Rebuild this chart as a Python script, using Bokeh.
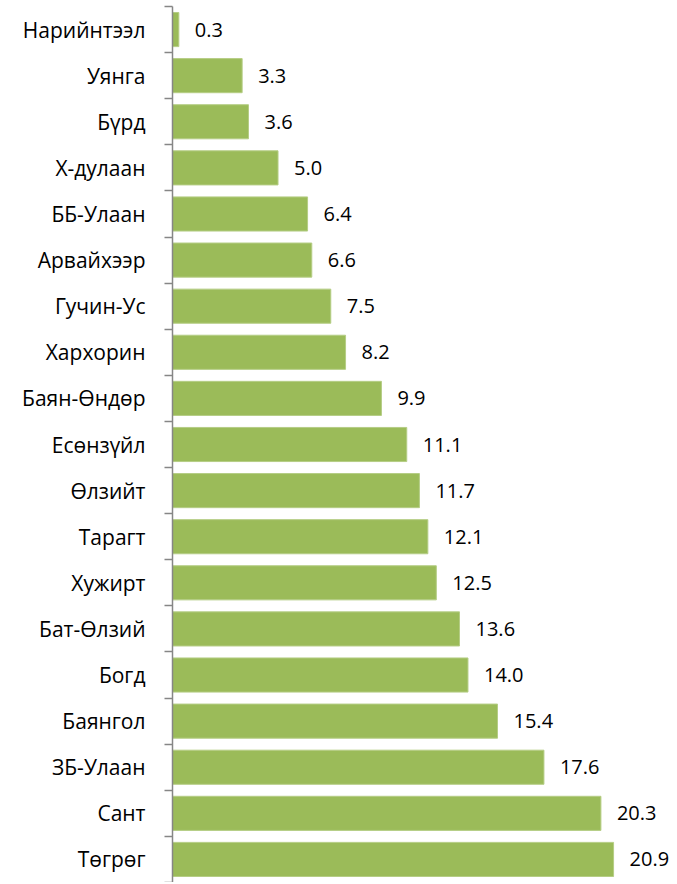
from bokeh.plotting import figure
from bokeh.models import ColumnDataSource, Range1d, FixedTicker, LabelSet
from bokeh.core.properties import value
from bokeh.embed import file_html
from bokeh.resources import INLINE

categories = ["Нарийнтээл", "Уянга", "Бүрд", "Х-дулаан", "ББ-Улаан", "Арвайхээр",
              "Гучин-Ус", "Хархорин", "Баян-Өндөр", "Есөнзүйл", "Өлзийт", "Тарагт",
              "Хужирт", "Бат-Өлзий", "Богд", "Баянгол", "ЗБ-Улаан", "Сант", "Төгрөг"]
values = [0.3, 3.3, 3.6, 5.0, 6.4, 6.6, 7.5, 8.2, 9.9, 11.1, 11.7, 12.1,
          12.5, 13.6, 14.0, 15.4, 17.6, 20.3, 20.9]

n = len(categories)
# position n is at the top (first category), 1 at the bottom (last category)
ypos = [n - i for i in range(n)]
labels = [f"{v:.1f}" for v in values]

src = ColumnDataSource(dict(y=ypos, v=values, lab=labels, cat=categories))

FONT = "Open Sans"

p = figure(width=677, height=882, output_backend="svg", toolbar_location=None,
           x_range=Range1d(0, 23.55), y_range=Range1d(0.5, n + 0.5),
           x_axis_location=None, min_border_left=172, min_border_right=8,
           min_border_top=6, min_border_bottom=0)
p.outline_line_color = None
p.xgrid.visible = False
p.ygrid.visible = False

p.hbar(y="y", right="v", left=0, height=0.74, source=src,
       fill_color="#9BBB59", line_color="#B5CD85", line_width=1)

p.add_layout(LabelSet(x="v", y="y", text="lab", source=src, x_offset=16,
                      text_baseline="middle", text_font=value(FONT),
                      text_font_size="20px", text_color="#000000"))

ax = p.yaxis[0]
ax.ticker = FixedTicker(ticks=ypos, minor_ticks=[k + 0.5 for k in range(n + 1)])
ax.major_label_overrides = {n - i: c for i, c in enumerate(categories)}
ax.major_tick_line_color = None
ax.minor_tick_line_color = "#868686"
ax.minor_tick_line_width = 1.5
ax.minor_tick_out = 8
ax.minor_tick_in = 0
ax.axis_line_color = "#868686"
ax.axis_line_width = 1.5
ax.major_label_standoff = 19
ax.major_label_text_font = FONT
ax.major_label_text_font_size = "21px"
ax.major_label_text_color = "#000000"

open("out.html", "w").write(file_html(p, INLINE))
